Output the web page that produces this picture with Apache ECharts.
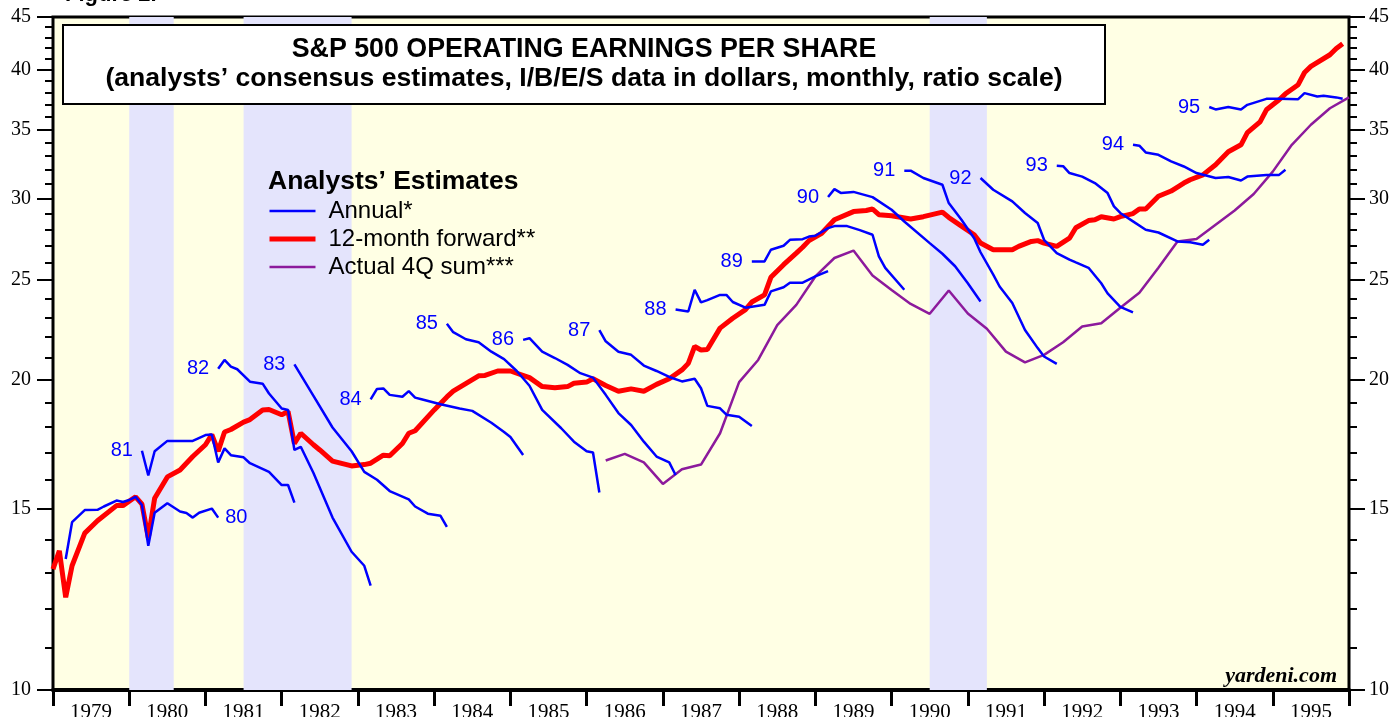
<!DOCTYPE html>
<html>
<head>
<meta charset="utf-8">
<title>S&amp;P 500 Operating Earnings Per Share</title>
<script src="https://cdn.jsdelivr.net/npm/echarts@6/dist/echarts.min.js"></script>
<style>
    html, body { margin: 0; padding: 0; background: #ffffff; }
    #grafico { width: 1392px; height: 717px; }
</style>
</head>
<body>
<div id="grafico"></div>
<script>
(function () {
    "use strict";

    // recesiones (sombreado)
    var recessions = [['1980-01', '1980-08'], ['1981-07', '1982-12'], ['1990-07', '1991-04']];

    var yearLabels = [1979, 1980, 1981, 1982, 1983, 1984, 1985, 1986, 1987, 1988, 1989, 1990, 1991, 1992, 1993, 1994, 1995];
    var yTicksMajor = [10, 15, 20, 25, 30, 35, 40, 45];
    var yTicksMinor = [11, 12, 13, 14, 16, 17, 18, 19, 21, 22, 23, 24, 26, 27, 28, 29, 31, 32, 33, 34, 36, 37, 38, 39, 41, 42, 43, 44];

    // 12-month forward
    var forward12m = [
        ['1979-01', 13.1], ['1979-02', 13.65], ['1979-03', 12.3], ['1979-04', 13.2], ['1979-06', 14.2], ['1979-08', 14.6],
        ['1979-11', 15.1], ['1979-12', 15.1], ['1980-02', 15.4], ['1980-03', 15.15], ['1980-04', 14.05], ['1980-05', 15.35],
        ['1980-07', 16.1], ['1980-09', 16.35], ['1980-11', 16.85], ['1981-01', 17.3], ['1981-02', 17.7], ['1981-03', 17.05],
        ['1981-04', 17.8], ['1981-05', 17.9], ['1981-07', 18.2], ['1981-08', 18.3], ['1981-10', 18.7], ['1981-11', 18.72],
        ['1982-01', 18.5], ['1982-02', 18.63], ['1982-03', 17.35], ['1982-04', 17.75], ['1982-06', 17.3], ['1982-07', 17.1],
        ['1982-09', 16.68], ['1982-12', 16.5], ['1983-02', 16.55], ['1983-03', 16.6], ['1983-05', 16.9], ['1983-06', 16.88],
        ['1983-08', 17.35], ['1983-09', 17.75], ['1983-10', 17.85], ['1984-01', 18.7], ['1984-03', 19.25], ['1984-04', 19.5],
        ['1984-08', 20.18], ['1984-09', 20.2], ['1984-11', 20.4], ['1985-01', 20.4], ['1985-04', 20.1], ['1985-06', 19.7],
        ['1985-08', 19.65], ['1985-10', 19.7], ['1985-11', 19.85], ['1986-01', 19.9], ['1986-02', 20.05], ['1986-04', 19.75],
        ['1986-06', 19.5], ['1986-08', 19.6], ['1986-10', 19.5], ['1986-12', 19.8], ['1987-02', 20.05], ['1987-04', 20.45],
        ['1987-05', 20.75], ['1987-06', 21.55], ['1987-07', 21.38], ['1987-08', 21.4], ['1987-10', 22.45], ['1987-12', 22.95],
        ['1988-02', 23.4], ['1988-03', 23.8], ['1988-05', 24.18], ['1988-06', 25.15], ['1988-08', 25.87], ['1988-10', 26.55],
        ['1988-11', 26.9], ['1988-12', 27.3], ['1989-02', 27.75], ['1989-04', 28.6], ['1989-07', 29.13], ['1989-09', 29.2],
        ['1989-10', 29.3], ['1989-11', 28.93], ['1990-01', 28.86], ['1990-04', 28.65], ['1990-06', 28.8], ['1990-09', 29.1],
        ['1990-10', 28.75], ['1990-12', 28.2], ['1991-02', 27.66], ['1991-03', 27.15], ['1991-05', 26.75], ['1991-08', 26.75],
        ['1991-09', 26.95], ['1991-11', 27.25], ['1991-12', 27.3], ['1992-01', 27.15], ['1992-03', 26.95], ['1992-05', 27.45],
        ['1992-06', 28.1], ['1992-08', 28.55], ['1992-09', 28.6], ['1992-10', 28.8], ['1992-12', 28.65], ['1993-01', 28.8],
        ['1993-03', 29.0], ['1993-04', 29.3], ['1993-05', 29.3], ['1993-07', 30.15], ['1993-09', 30.5], ['1993-11', 31.05],
        ['1993-12', 31.28], ['1994-02', 31.62], ['1994-04', 32.34], ['1994-06', 33.3], ['1994-08', 33.82], ['1994-09', 34.75],
        ['1994-11', 35.6], ['1994-12', 36.57], ['1995-02', 37.4], ['1995-03', 37.9], ['1995-05', 38.68], ['1995-06', 39.75],
        ['1995-07', 40.3], ['1995-10', 41.36], ['1995-11', 41.95], ['1995-12', 42.4]
    ];

    // actual 4Q sum (trimestral)
    var actual4q = [
        ['1986-04', 16.7], ['1986-07', 16.95], ['1986-10', 16.63], ['1987-01', 15.85], ['1987-04', 16.38], ['1987-07', 16.55],
        ['1987-10', 17.75], ['1988-01', 19.9], ['1988-04', 20.91], ['1988-07', 22.6], ['1988-10', 23.65], ['1989-01', 25.2],
        ['1989-04', 26.26], ['1989-07', 26.7], ['1989-10', 25.25], ['1990-01', 24.45], ['1990-04', 23.7], ['1990-07', 23.18],
        ['1990-10', 24.42], ['1991-01', 23.2], ['1991-04', 22.42], ['1991-07', 21.3], ['1991-10', 20.8], ['1992-01', 21.15],
        ['1992-04', 21.75], ['1992-07', 22.53], ['1992-10', 22.7], ['1993-01', 23.5], ['1993-04', 24.3], ['1993-07', 25.7],
        ['1993-10', 27.25], ['1994-01', 27.4], ['1994-04', 28.29], ['1994-07', 29.2], ['1994-10', 30.3], ['1995-01', 31.85],
        ['1995-04', 33.82], ['1995-07', 35.37], ['1995-10', 36.7], ['1996-01', 37.6]
    ];

    // annual estimates, one line per year
    var annual80 = [['1979-03', 13.4], ['1979-04', 14.55], ['1979-06', 14.95], ['1979-08', 14.96], ['1979-09', 15.07], ['1979-11', 15.27],
        ['1979-12', 15.22], ['1980-01', 15.29], ['1980-02', 15.4], ['1980-03', 15.12], ['1980-04', 13.8], ['1980-05', 14.86],
        ['1980-07', 15.18], ['1980-09', 14.9], ['1980-10', 14.85], ['1980-11', 14.7], ['1980-12', 14.86], ['1981-02', 15.0], ['1981-03', 14.7]];
    var annual81 = [['1980-03', 17.07], ['1980-04', 16.15], ['1980-05', 17.05], ['1980-07', 17.45], ['1980-09', 17.45], ['1980-11', 17.45],
        ['1981-01', 17.68], ['1981-02', 17.7], ['1981-03', 16.63], ['1981-04', 17.16], ['1981-05', 16.9], ['1981-07', 16.82],
        ['1981-08', 16.6], ['1981-11', 16.28], ['1982-01', 15.81], ['1982-02', 15.81], ['1982-03', 15.2]];
    var annual82 = [['1981-03', 20.5], ['1981-04', 20.91], ['1981-05', 20.6], ['1981-06', 20.48], ['1981-08', 19.92], ['1981-10', 19.83],
        ['1981-11', 19.4], ['1982-01', 18.76], ['1982-02', 18.7], ['1982-03', 17.1], ['1982-04', 17.22], ['1982-06', 16.24],
        ['1982-09', 14.7], ['1982-12', 13.62], ['1983-02', 13.2], ['1983-03', 12.63]];
    var annual83 = [['1982-03', 20.7], ['1982-06', 19.3], ['1982-09', 17.98], ['1982-12', 17.05], ['1983-02', 16.28], ['1983-04', 16.0],
        ['1983-06', 15.6], ['1983-09', 15.31], ['1983-10', 15.07], ['1983-12', 14.83], ['1984-02', 14.76], ['1984-03', 14.4]];
    var annual84 = [['1983-03', 19.15], ['1983-04', 19.6], ['1983-05', 19.62], ['1983-06', 19.34], ['1983-08', 19.26], ['1983-09', 19.5],
        ['1983-10', 19.22], ['1983-11', 19.15], ['1984-02', 18.94], ['1984-05', 18.76], ['1984-07', 18.66], ['1984-10', 18.17],
        ['1984-12', 17.8], ['1985-01', 17.6], ['1985-03', 16.91]];
    var annual85 = [['1984-03', 22.67], ['1984-04', 22.25], ['1984-06', 21.9], ['1984-08', 21.75], ['1984-10', 21.3], ['1984-12', 20.95],
        ['1985-02', 20.4], ['1985-04', 19.74], ['1985-06', 18.7], ['1985-09', 17.95], ['1985-11', 17.42], ['1986-01', 17.05],
        ['1986-02', 17.0], ['1986-03', 15.55]];
    var annual86 = [['1985-03', 21.87], ['1985-04', 21.95], ['1985-06', 21.3], ['1985-08', 21.0], ['1985-10', 20.68], ['1985-12', 20.3],
        ['1986-02', 20.1], ['1986-04', 19.34], ['1986-06', 18.57], ['1986-08', 18.08], ['1986-10', 17.42], ['1986-12', 16.85],
        ['1987-02', 16.63], ['1987-03', 16.17]];
    var annual87 = [['1986-03', 22.35], ['1986-04', 21.8], ['1986-06', 21.3], ['1986-08', 21.15], ['1986-10', 20.65], ['1986-12', 20.4],
        ['1987-02', 20.13], ['1987-04', 19.93], ['1987-06', 20.05], ['1987-07', 19.63], ['1987-08', 18.87], ['1987-10', 18.77],
        ['1987-11', 18.5], ['1988-01', 18.42], ['1988-03', 18.04]];
    var annual88 = [['1987-03', 23.4], ['1987-05', 23.3], ['1987-06', 24.46], ['1987-07', 23.78], ['1987-08', 23.9], ['1987-10', 24.18],
        ['1987-11', 24.18], ['1987-12', 23.8], ['1988-02', 23.5], ['1988-05', 23.65], ['1988-06', 24.37], ['1988-08', 24.6],
        ['1988-09', 24.85], ['1988-11', 24.85], ['1989-01', 25.2], ['1989-03', 25.5]];
    var annual89 = [['1988-03', 26.06], ['1988-05', 26.06], ['1988-06', 26.75], ['1988-08', 26.99], ['1988-09', 27.35], ['1988-11', 27.39],
        ['1988-12', 27.55], ['1989-01', 27.6], ['1989-03', 28.07], ['1989-04', 28.2], ['1989-06', 28.2], ['1989-08', 27.95],
        ['1989-10', 27.66], ['1989-11', 26.36], ['1989-12', 25.69], ['1990-03', 24.46]];
    var annual90 = [['1989-03', 30.09], ['1989-04', 30.63], ['1989-05', 30.37], ['1989-07', 30.44], ['1989-10', 30.09], ['1990-01', 29.25],
        ['1990-03', 28.49], ['1990-07', 27.15], ['1990-09', 26.51], ['1990-11', 25.78], ['1991-01', 24.82], ['1991-03', 23.83]];
    var annual91 = [['1990-03', 31.92], ['1990-04', 31.92], ['1990-06', 31.4], ['1990-09', 30.93], ['1990-10', 29.69], ['1990-12', 28.6],
        ['1991-02', 27.45], ['1991-03', 26.6], ['1991-05', 25.3], ['1991-06', 24.64], ['1991-08', 23.75], ['1991-10', 22.36],
        ['1991-12', 21.47], ['1992-01', 21.07], ['1992-03', 20.73]];
    var annual92 = [['1991-03', 31.4], ['1991-05', 30.59], ['1991-08', 29.8], ['1991-10', 29.04], ['1991-12', 28.4], ['1992-01', 27.35],
        ['1992-03', 26.55], ['1992-05', 26.16], ['1992-06', 26.0], ['1992-08', 25.69], ['1992-10', 24.82], ['1992-11', 24.26],
        ['1993-01', 23.54], ['1993-03', 23.25]];
    var annual93 = [['1992-03', 32.27], ['1992-04', 32.24], ['1992-05', 31.75], ['1992-07', 31.5], ['1992-09', 31.05], ['1992-11', 30.36],
        ['1992-12', 29.47], ['1993-01', 29.04], ['1993-03', 28.5], ['1993-05', 27.97], ['1993-07', 27.8], ['1993-10', 27.25],
        ['1993-12', 27.2], ['1994-02', 27.05], ['1994-03', 27.35]];
    var annual94 = [['1993-03', 33.82], ['1993-04', 33.75], ['1993-05', 33.25], ['1993-07', 33.07], ['1993-09', 32.59], ['1993-11', 32.22],
        ['1994-01', 31.75], ['1994-04', 31.4], ['1994-06', 31.47], ['1994-08', 31.23], ['1994-09', 31.5], ['1994-12', 31.62],
        ['1995-02', 31.62], ['1995-03', 31.98]];
    var annual95 = [['1994-03', 36.8], ['1994-04', 36.6], ['1994-06', 36.8], ['1994-08', 36.6], ['1994-09', 36.98], ['1994-12', 37.48],
        ['1995-02', 37.48], ['1995-05', 37.45], ['1995-06', 37.96], ['1995-08', 37.68], ['1995-09', 37.74], ['1995-11', 37.6],
        ['1995-12', 37.48]];

    var annualLines = [
        ['80', annual80, 'right'], ['81', annual81, 'left'], ['82', annual82, 'left'], ['83', annual83, 'left'],
        ['84', annual84, 'left'], ['85', annual85, 'left'], ['86', annual86, 'left'], ['87', annual87, 'left'],
        ['88', annual88, 'left'], ['89', annual89, 'left'], ['90', annual90, 'left'], ['91', annual91, 'left'],
        ['92', annual92, 'left'], ['93', annual93, 'left'], ['94', annual94, 'left'], ['95', annual95, 'left']
    ];

    var BLUE = '#0000ff', RED = '#ff0000', PURPLE = '#8c1a9c';
    var SANS = '"Liberation Sans", Arial, sans-serif';
    var SERIF = '"Liberation Serif", "Times New Roman", serif';

    function toYear(s) { //'1985-04' -> 1985.25
        var p = s.split('-');
        return Number(p[0]) + (Number(p[1]) - 1) / 12;
    }
    function pts(list) {
        return list.map(function (d) { return [toYear(d[0]), d[1]]; });
    }

    function annualSerie(tag, list, side) {
        var n = list.length;
        return {
            name: 'Annual*',
            type: 'line',
            z: 4,
            showSymbol: true,
            symbol: 'circle',
            symbolSize: 0,
            itemStyle: { color: BLUE },
            lineStyle: { color: BLUE, width: 2.5 },
            label: { show: false },
            emphasis: { disabled: true },
            data: list.map(function (d, i) {
                var item = { value: [toYear(d[0]), d[1]] };
                if ((side === 'right' && i === n - 1) || (side === 'left' && i === 0)) {
                    item.label = {
                        show: true, position: side, distance: side === 'left' ? 9 : 7, formatter: tag,
                        color: BLUE, fontSize: 20, fontFamily: SANS
                    };
                }
                return item;
            })
        };
    }

    var logMin = Math.log10(10), logMax = Math.log10(45);

    function yScaleAxis(pos, values, len, withLabels) { //ejes auxiliares para las marcas de escala log
        return {
            type: 'value', position: pos, min: logMin, max: logMax,
            axisLine: { show: false },
            splitLine: { show: false },
            axisTick: { show: true, customValues: values.map(Math.log10), length: len, lineStyle: { color: '#000', width: 2 } },
            axisLabel: {
                show: withLabels,
                customValues: values.map(Math.log10),
                formatter: function (v) { return String(Math.round(Math.pow(10, v))); },
                margin: pos === 'left' ? 22 : 20, color: '#000', fontSize: 20, fontFamily: SERIF
            }
        };
    }

    var series = [{
        name: '12-month forward**',
        type: 'line',
        z: 3,
        showSymbol: false,
        lineStyle: { color: RED, width: 5 },
        itemStyle: { color: RED },
        emphasis: { disabled: true },
        data: pts(forward12m),
        markArea: {
            silent: true,
            itemStyle: { color: '#e4e4fc' },
            data: recessions.map(function (r) { return [{ xAxis: toYear(r[0]) }, { xAxis: toYear(r[1]) }]; })
        }
    }, {
        name: 'Actual 4Q sum***',
        type: 'line',
        z: 4,
        showSymbol: false,
        lineStyle: { color: PURPLE, width: 2.5 },
        itemStyle: { color: PURPLE },
        emphasis: { disabled: true },
        data: pts(actual4q)
    }];
    annualLines.forEach(function (a) { series.push(annualSerie(a[0], a[1], a[2])); });

    var chart = echarts.init(document.getElementById('grafico'));
    chart.setOption({
        animation: false,
        backgroundColor: '#ffffff',
        grid: {
            left: 53, right: 43, top: 17, bottom: 27,
            outerBoundsMode: 'none',
            containLabel: false,
            show: true, backgroundColor: '#ffffe4', borderColor: '#000', borderWidth: 3
        },
        legend: {
            data: [
                { name: 'Annual*', lineStyle: { width: 2.5 } },
                { name: '12-month forward**', lineStyle: { width: 5 } },
                { name: 'Actual 4Q sum***', lineStyle: { width: 2.5 } }
            ],
            orient: 'vertical',
            left: 267, top: 199, padding: 0,
            itemWidth: 46, itemHeight: 24, itemGap: 4,
            itemStyle: { opacity: 0 },
            textStyle: { color: '#000', fontSize: 24, fontFamily: SANS, padding: [0, 0, 0, 8] }
        },
        xAxis: {
            type: 'value', min: 1979, max: 1996, interval: 1,
            axisLine: { show: true, lineStyle: { color: '#000', width: 4 } },
            axisTick: { show: true, length: 16, lineStyle: { color: '#000', width: 3 } },
            splitLine: { show: false },
            axisLabel: {
                customValues: yearLabels.map(function (y) { return y + 0.5; }),
                formatter: function (v) { return String(Math.floor(v)); },
                margin: 12, color: '#000', fontSize: 21, fontFamily: SERIF
            }
        },
        yAxis: [
            { type: 'log', logBase: 10, min: 10, max: 45, show: false },
            yScaleAxis('left', yTicksMajor, 16, true),
            yScaleAxis('left', yTicksMinor, 8, false),
            yScaleAxis('right', yTicksMajor, 16, true),
            yScaleAxis('right', yTicksMinor, 8, false)
        ],
        graphic: [
            { type: 'text', left: 65, top: -16, z: 100, style: { text: 'Figure 2.', font: 'bold 22px ' + SANS, fill: '#000' } },
            { type: 'rect', z: 100, shape: { x: 63, y: 25, width: 1042, height: 79 }, style: { fill: '#ffffff', stroke: '#000', lineWidth: 2 } },
            { type: 'text', z: 101, x: 584, y: 50, style: { text: 'S&P 500 OPERATING EARNINGS PER SHARE', font: 'bold 26.8px ' + SANS, fill: '#000', align: 'center', verticalAlign: 'middle' } },
            { type: 'text', z: 101, x: 584, y: 79, style: { text: '(analysts\u2019 consensus estimates, I/B/E/S data in dollars, monthly, ratio scale)', font: 'bold 26.6px ' + SANS, fill: '#000', align: 'center', verticalAlign: 'middle' } },
            { type: 'text', z: 101, x: 268, y: 182, style: { text: 'Analysts\u2019 Estimates', font: 'bold 26.5px ' + SANS, fill: '#000', align: 'left', verticalAlign: 'middle' } },
            { type: 'text', z: 101, x: 1337, y: 676, style: { text: 'yardeni.com', font: 'italic bold 22px ' + SERIF, fill: '#000', align: 'right', verticalAlign: 'middle' } }
        ],
        series: series
    });
}());
</script>
</body>
</html>
